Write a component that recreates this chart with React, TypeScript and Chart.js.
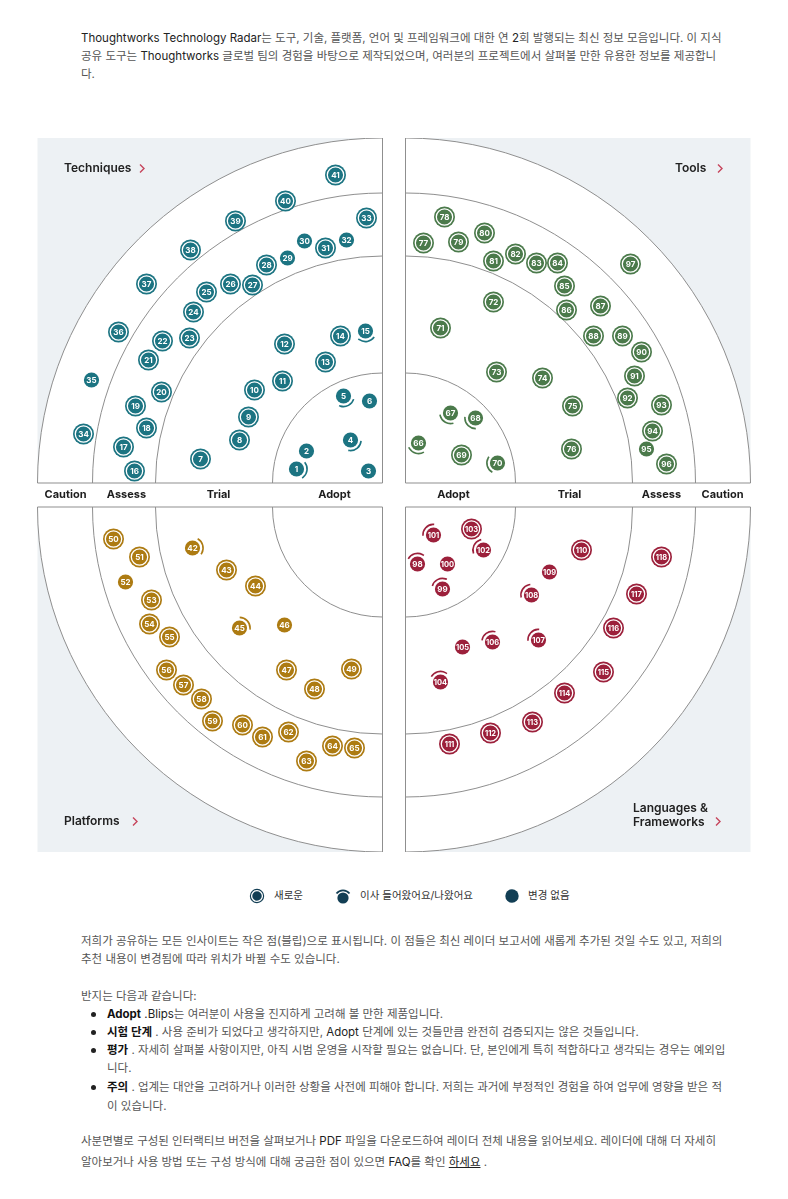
import React, { useEffect, useRef } from "react";
import { Chart, registerables } from "chart.js";

Chart.register(...registerables);

// Blip: [number, distance along the ring axis, distance away from it, status]
// status: "n" = new, "m" = moved in/out, "c" = no change
type Blip = [number, number, number, string];

const ringNames = ["Adopt", "Trial", "Assess", "Caution"];
const ringRadii = [110, 227, 290, 345];

const techniques: Blip[] = [
  [1, 86, 14, "m"], [2, 76, 32, "c"], [3, 14, 12, "c"], [4, 32, 43, "m"], [5, 39, 87, "m"], [6, 13, 82, "c"],
  [7, 182, 24, "n"], [8, 143, 43, "n"], [9, 134, 66, "n"], [10, 128, 93, "n"], [11, 100, 102, "n"],
  [12, 98, 139, "n"], [13, 57, 121, "n"], [14, 42, 147, "n"], [15, 17, 152, "m"],
  [16, 248, 12, "n"], [17, 259, 36, "n"], [18, 236, 55, "n"], [19, 247, 77, "n"], [20, 221, 91, "n"],
  [21, 234, 123, "n"], [22, 220, 142, "n"], [23, 193, 145, "n"], [24, 189, 171, "n"], [25, 176, 191, "n"],
  [26, 152, 199, "n"], [27, 130, 198, "n"], [28, 116, 218, "n"], [29, 95, 225, "c"], [30, 78, 242, "c"],
  [31, 57, 235, "n"], [32, 36, 243, "c"], [33, 16, 265, "n"],
  [34, 299, 49, "n"], [35, 291, 103, "c"], [36, 264, 151, "n"], [37, 236, 199, "n"], [38, 192, 233, "n"],
  [39, 147, 262, "n"], [40, 97, 282, "n"], [41, 47, 308, "n"],
];

const tools: Blip[] = [
  [66, 13, 40, "m"], [67, 45, 70, "m"], [68, 70, 65, "m"], [69, 56, 28, "n"], [70, 92, 20, "m"],
  [71, 35, 155, "n"], [72, 88, 181, "n"], [73, 91, 111, "n"], [74, 137, 105, "n"], [75, 167, 77, "n"], [76, 166, 34, "n"],
  [77, 18, 240, "n"], [78, 39, 266, "n"], [79, 53, 241, "n"], [80, 79, 250, "n"], [81, 88, 222, "n"],
  [82, 110, 229, "n"], [83, 131, 220, "n"], [84, 152, 220, "n"], [85, 159, 197, "n"], [86, 161, 173, "n"],
  [87, 195, 177, "n"], [88, 188, 147, "n"], [89, 217, 147, "n"], [90, 236, 131, "n"], [91, 229, 107, "n"],
  [92, 222, 85, "n"], [93, 256, 78, "n"], [94, 247, 52, "n"], [95, 241, 34, "c"], [96, 261, 19, "n"],
  [97, 225, 219, "n"],
];

const platforms: Blip[] = [
  [42, 190, 41, "m"], [43, 156, 63, "n"], [44, 127, 79, "n"], [45, 143, 121, "m"], [46, 98, 118, "c"],
  [47, 96, 163, "n"], [48, 68, 182, "n"], [49, 31, 162, "n"],
  [50, 269, 32, "n"], [51, 243, 50, "n"], [52, 257, 75, "c"], [53, 231, 93, "n"], [54, 233, 117, "n"],
  [55, 213, 130, "n"], [56, 216, 163, "n"], [57, 199, 178, "n"], [58, 181, 192, "n"], [59, 170, 214, "n"],
  [60, 140, 218, "n"], [61, 120, 230, "n"], [62, 94, 225, "n"], [63, 76, 254, "n"], [64, 50, 239, "n"],
  [65, 28, 241, "n"],
];

const languages: Blip[] = [
  [98, 12, 57, "m"], [99, 37, 82, "m"], [100, 42, 57, "c"], [101, 28, 28, "m"], [102, 78, 43, "m"], [103, 66, 22, "n"],
  [104, 35, 175, "m"], [105, 57, 140, "c"], [106, 87, 135, "m"], [107, 133, 133, "m"], [108, 126, 88, "m"],
  [109, 144, 65, "c"], [110, 176, 43, "n"],
  [111, 44, 237, "n"], [112, 85, 226, "n"], [113, 127, 215, "n"], [114, 159, 186, "n"], [115, 198, 165, "n"],
  [116, 208, 121, "n"], [117, 231, 87, "n"], [118, 256, 50, "n"],
];

const quadrantNames = ["Techniques", "Tools", "Platforms", "Languages & Frameworks"];
const quadrantColors = ["#1c7482", "#4b7a4b", "#ad7b12", "#9c203b"];

const legendLabels = ["새로운", "이사 들어왔어요/나왔어요", "변경 없음"];
const legendColor = "#123e54";

// Half-extent of the radar in axis units, and the half-gap between quadrants.
const SPAN = 357;
const GAP_X = 11.5;
const GAP_Y = 12;

const quadrants = [
  { name: quadrantNames[0], blips: techniques, color: quadrantColors[0], sx: -1, sy: 1 },
  { name: quadrantNames[1], blips: tools, color: quadrantColors[1], sx: 1, sy: 1 },
  { name: quadrantNames[2], blips: platforms, color: quadrantColors[2], sx: -1, sy: -1 },
  { name: quadrantNames[3], blips: languages, color: quadrantColors[3], sx: 1, sy: -1 },
];

const FONT = "Inter, 'Noto Sans CJK KR', sans-serif";

function quadrantGeometry(chart: any, q: any) {
  const xs = chart.scales.x;
  const ys = chart.scales.y;
  const unit = Math.abs(xs.getPixelForValue(1) - xs.getPixelForValue(0));
  const cx = xs.getPixelForValue(q.sx * GAP_X);
  const cy = ys.getPixelForValue(q.sy * GAP_Y);
  const dirX = q.sx;
  const dirY = -q.sy;
  const start =
    dirY < 0 ? (dirX < 0 ? Math.PI : 1.5 * Math.PI) : dirX < 0 ? 0.5 * Math.PI : 0;
  return { cx, cy, unit, dirX, dirY, start, end: start + 0.5 * Math.PI };
}

const radarPlugin = {
  id: "radarRings",
  beforeDatasetsDraw(chart: any) {
    const { ctx } = chart;
    ctx.save();
    quadrants.forEach((q) => {
      const g = quadrantGeometry(chart, q);
      const radii = ringRadii.map((r) => r * g.unit);
      const outer = radii[radii.length - 1];
      // shaded panel behind the quarter disc
      ctx.fillStyle = "#edf1f4";
      ctx.fillRect(g.dirX < 0 ? g.cx - outer : g.cx, g.dirY < 0 ? g.cy - outer : g.cy, outer, outer);
      ctx.fillStyle = "#ffffff";
      ctx.beginPath();
      ctx.moveTo(g.cx, g.cy);
      ctx.arc(g.cx, g.cy, outer, g.start, g.end);
      ctx.closePath();
      ctx.fill();
      ctx.strokeStyle = "#8f8f8f";
      ctx.lineWidth = 1;
      radii.forEach((r) => {
        ctx.beginPath();
        ctx.arc(g.cx, g.cy, r, g.start, g.end);
        ctx.stroke();
      });
      ctx.beginPath();
      ctx.moveTo(g.cx + g.dirX * outer, g.cy);
      ctx.lineTo(g.cx, g.cy);
      ctx.lineTo(g.cx, g.cy + g.dirY * outer);
      ctx.stroke();
    });

    // ring names in the band between the upper and lower quadrants
    const labelRadii = [48, 164, 256, 317];
    const ys = chart.scales.y;
    const midY = ys.getPixelForValue(0);
    ctx.fillStyle = "#1d1d1d";
    ctx.font = `bold 11px ${FONT}`;
    ctx.textAlign = "center";
    ctx.textBaseline = "middle";
    [quadrants[0], quadrants[1]].forEach((q) => {
      const g = quadrantGeometry(chart, q);
      ringNames.forEach((name, i) => {
        ctx.fillText(name, g.cx + g.dirX * labelRadii[i] * g.unit, midY);
      });
    });
    ctx.restore();
  },
  afterDatasetsDraw(chart: any) {
    const { ctx } = chart;
    ctx.save();
    chart.data.datasets.forEach((ds: any, di: number) => {
      const q = quadrants[di];
      const g = quadrantGeometry(chart, q);
      const meta = chart.getDatasetMeta(di);
      meta.data.forEach((el: any, j: number) => {
        const raw = ds.data[j];
        const { x, y } = el;
        ctx.fillStyle = q.color;
        ctx.strokeStyle = q.color;
        if (raw.status === "n") {
          ctx.beginPath();
          ctx.arc(x, y, 10.5, 0, Math.PI * 2);
          ctx.fill();
          ctx.strokeStyle = "#ffffff";
          ctx.lineWidth = 1.3;
          ctx.beginPath();
          ctx.arc(x, y, 8.2, 0, Math.PI * 2);
          ctx.stroke();
        } else {
          ctx.beginPath();
          ctx.arc(x, y, 7.6, 0, Math.PI * 2);
          ctx.fill();
          if (raw.status === "m") {
            const a = Math.atan2(g.cy - y, g.cx - x);
            ctx.lineWidth = 1.6;
            ctx.beginPath();
            ctx.arc(x, y, 10.6, a - 0.85, a + 0.85);
            ctx.stroke();
          }
        }
        ctx.fillStyle = "#ffffff";
        ctx.font = `bold ${raw.id >= 100 ? 7.5 : 8}px ${FONT}`;
        ctx.textAlign = "center";
        ctx.textBaseline = "middle";
        ctx.fillText(String(raw.id), x, y + 0.5);
      });
    });
    ctx.restore();
  },
};

function Chevron({ x, y }: { x: number; y: number }) {
  return (
    <svg style={{ position: "absolute", left: x, top: y }} width="8" height="11">
      <polyline points="2,1.5 6,5.5 2,9.5" fill="none" stroke="#c6445b" strokeWidth="1.4" />
    </svg>
  );
}

function Line({ x, y, children, size = 11.5 }: { x: number; y: number; children: any; size?: number }) {
  return (
    <div
      style={{
        position: "absolute",
        left: x,
        top: y - 9,
        height: 18,
        lineHeight: "18px",
        whiteSpace: "nowrap",
        fontSize: size,
        color: "#555",
      }}
    >
      {children}
    </div>
  );
}

const dark = { color: "#222" };
const bold = { color: "#111", fontWeight: 700 };

function Bullet({ y }: { y: number }) {
  return (
    <div
      style={{
        position: "absolute",
        left: 91,
        top: y - 2.5,
        width: 5,
        height: 5,
        borderRadius: "50%",
        background: "#222",
      }}
    />
  );
}

export default function App() {
  const canvasRef = useRef<HTMLCanvasElement | null>(null);

  useEffect(() => {
    const canvas = canvasRef.current;
    if (!canvas) return;
    const datasets = quadrants.map((q) => ({
      label: q.name,
      data: q.blips.map(([id, along, away, status]) => ({
        x: q.sx * (GAP_X + along),
        y: q.sy * (GAP_Y + away),
        id,
        status,
      })),
      pointRadius: 0,
      backgroundColor: q.color,
    }));
    const chart = new Chart(canvas, {
      type: "scatter",
      data: { datasets } as any,
      options: {
        responsive: false,
        animation: false,
        events: [],
        devicePixelRatio: 1,
        layout: { padding: 0 },
        plugins: { legend: { display: false }, tooltip: { enabled: false } },
        scales: {
          x: { type: "linear", min: -SPAN, max: SPAN, display: false },
          y: { type: "linear", min: -SPAN, max: SPAN, display: false },
        },
      },
      plugins: [radarPlugin],
    });
    return () => chart.destroy();
  }, []);

  const titleStyle: any = {
    position: "absolute",
    fontSize: 12,
    fontWeight: 600,
    color: "#222",
    whiteSpace: "nowrap",
    lineHeight: "14px",
  };
  const legendText: any = {
    position: "absolute",
    fontSize: 10.5,
    color: "#333",
    whiteSpace: "nowrap",
    lineHeight: "14px",
  };

  return (
    <div
      style={{
        position: "absolute",
        left: 0,
        top: 0,
        width: 788,
        height: 1190,
        overflow: "hidden",
        fontFamily: FONT,
        background: "#fff",
      }}
    >
      <Line x={81} y={38}>
        <span style={dark}>Thoughtworks Technology Radar</span>는 도구, 기술, 플랫폼, 언어 및 프레임워크에 대한 연{" "}
        <span style={dark}>2</span>회 발행되는 최신 정보 모음입니다. 이 지식
      </Line>
      <Line x={81} y={56}>
        공유 도구는 <span style={dark}>Thoughtworks</span> 글로벌 팀의 경험을 바탕으로 제작되었으며, 여러분의 프로젝트에서 살펴볼 만한 유용한 정보를 제공합니
      </Line>
      <Line x={81} y={74}>
        다.
      </Line>

      <canvas
        ref={canvasRef}
        width={714}
        height={714}
        style={{ position: "absolute", left: 37, top: 138, width: 714, height: 714 }}
      />

      <div style={{ ...titleStyle, left: 64, top: 161 }}>{quadrantNames[0]}</div>
      <Chevron x={138} y={163} />
      <div style={{ ...titleStyle, left: 675, top: 161 }}>{quadrantNames[1]}</div>
      <Chevron x={716} y={163} />
      <div style={{ ...titleStyle, left: 64, top: 814 }}>{quadrantNames[2]}</div>
      <Chevron x={131} y={816} />
      <div style={{ ...titleStyle, left: 633, top: 801, lineHeight: "13.5px" }}>
        Languages &amp;
        <br />
        Frameworks
      </div>
      <Chevron x={714} y={816} />

      <svg style={{ position: "absolute", left: 240, top: 884 }} width="320" height="26">
        <circle cx={17} cy={12} r={7.2} fill={legendColor} />
        <circle cx={17} cy={12} r={5.4} fill="none" stroke="#fff" strokeWidth={1.3} />
        <circle cx={103} cy={14} r={5.6} fill={legendColor} />
        <path d="M 96.5 9.5 A 8.2 8.2 0 0 1 109.5 9.5" fill="none" stroke={legendColor} strokeWidth={1.8} />
        <circle cx={272} cy={12} r={6.7} fill={legendColor} />
      </svg>
      <div style={{ ...legendText, left: 274, top: 889 }}>{legendLabels[0]}</div>
      <div style={{ ...legendText, left: 360, top: 889 }}>{legendLabels[1]}</div>
      <div style={{ ...legendText, left: 528, top: 889 }}>{legendLabels[2]}</div>

      <Line x={81} y={941}>
        저희가 공유하는 모든 인사이트는 작은 점(블립)으로 표시됩니다. 이 점들은 최신 레이더 보고서에 새롭게 추가된 것일 수도 있고, 저희의
      </Line>
      <Line x={81} y={959}>
        추천 내용이 변경됨에 따라 위치가 바뀔 수도 있습니다.
      </Line>
      <Line x={81} y={996}>
        반지는 다음과 같습니다:
      </Line>
      <Bullet y={1014} />
      <Line x={107} y={1014}>
        <span style={bold}>Adopt</span> <span style={dark}>.Blips</span>는 여러분이 사용을 진지하게 고려해 볼 만한 제품입니다.
      </Line>
      <Bullet y={1032} />
      <Line x={107} y={1032}>
        <span style={bold}>시험 단계</span> . 사용 준비가 되었다고 생각하지만, <span style={dark}>Adopt</span> 단계에 있는 것들만큼 완전히 검증되지는 않은 것들입니다.
      </Line>
      <Bullet y={1050} />
      <Line x={107} y={1050}>
        <span style={bold}>평가</span> . 자세히 살펴볼 사항이지만, 아직 시범 운영을 시작할 필요는 없습니다. 단, 본인에게 특히 적합하다고 생각되는 경우는 예외입
      </Line>
      <Line x={107} y={1068}>
        니다.
      </Line>
      <Bullet y={1087} />
      <Line x={107} y={1087}>
        <span style={bold}>주의</span> . 업계는 대안을 고려하거나 이러한 상황을 사전에 피해야 합니다. 저희는 과거에 부정적인 경험을 하여 업무에 영향을 받은 적
      </Line>
      <Line x={107} y={1106}>
        이 있습니다.
      </Line>
      <Line x={81} y={1141}>
        사분면별로 구성된 인터랙티브 버전을 살펴보거나 <span style={dark}>PDF</span> 파일을 다운로드하여 레이더 전체 내용을 읽어보세요. 레이더에 대해 더 자세히
      </Line>
      <Line x={81} y={1162}>
        알아보거나 사용 방법 또는 구성 방식에 대해 궁금한 점이 있으면 <span style={dark}>FAQ</span>를 확인{" "}
        <span style={{ ...dark, textDecoration: "underline" }}>하세요</span> .
      </Line>
    </div>
  );
}
